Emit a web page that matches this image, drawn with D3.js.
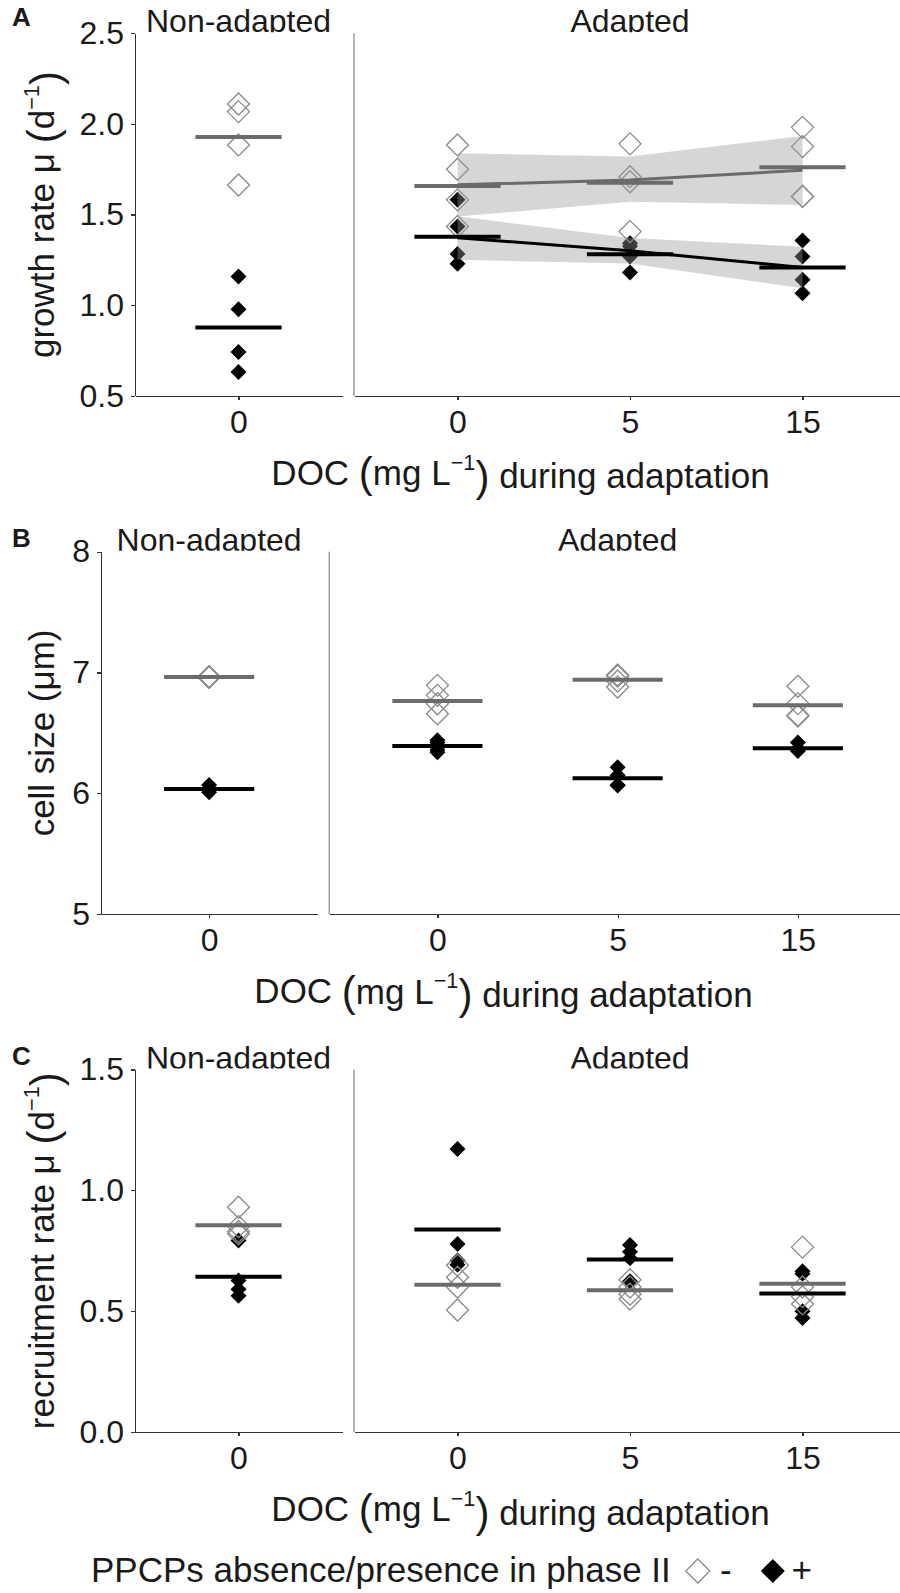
<!DOCTYPE html>
<meta charset="utf-8" />
<title>Growth rate, cell size and recruitment rate</title>
<script src="https://cdn.jsdelivr.net/npm/d3@7"></script>

<style>
  body {
    margin: 0;
    padding: 0;
    background: #fff;
  }

  svg text {
    font-family: "Liberation Sans", Arial, sans-serif;
    fill: #1a1a1a;
  }

  .axis path,
  .axis line {
    stroke: #333;
    stroke-width: 1.2;
    shape-rendering: crispEdges;
  }
</style>

<body>
  <div id="chart"></div>
</body>

<script>
  // facets and DOC levels
  const facets = ["Non-adapted", "Adapted"];
  const docLevels = ["0", "5", "15"];

  // A: growth rate (d-1), open = PPCPs absent, filled = PPCPs present
  const growthAbsent = [
    { facet: "Non-adapted", doc: "0", v: [2.11, 2.068, 1.884, 1.663] },
    { facet: "Adapted", doc: "0", v: [1.884, 1.75, 1.581, 1.434] },
    { facet: "Adapted", doc: "5", v: [1.89, 1.709, 1.681, 1.406] },
    { facet: "Adapted", doc: "15", v: [1.981, 1.875, 1.6, 1.6] }
  ];
  const growthPresent = [
    { facet: "Non-adapted", doc: "0", v: [1.158, 0.978, 0.741, 0.631] },
    { facet: "Adapted", doc: "0", v: [1.581, 1.434, 1.283, 1.228] },
    { facet: "Adapted", doc: "5", v: [1.342, 1.325, 1.268, 1.18] },
    { facet: "Adapted", doc: "15", v: [1.357, 1.268, 1.14, 1.066] }
  ];
  const growthMeanAbsent = [1.928, 1.658, 1.676, 1.761];
  const growthMeanPresent = [0.877, 1.378, 1.281, 1.208];
  // regression + band over the adapted DOC levels
  const growthFitAbsent = [1.664, 1.691, 1.744];
  const growthBandAbsent = [[1.489, 1.838], [1.571, 1.82], [1.553, 1.934]];
  const growthFitPresent = [1.372, 1.3, 1.208];
  const growthBandPresent = [[1.25, 1.49], [1.23, 1.37], [1.093, 1.323]];

  // B: cell size (um)
  const cellAbsent = [
    { facet: "Non-adapted", doc: "0", v: [6.965, 6.963, 6.962, 6.96] },
    { facet: "Adapted", doc: "0", v: [6.894, 6.811, 6.742, 6.659] },
    { facet: "Adapted", doc: "5", v: [6.98, 6.97, 6.93, 6.88] },
    { facet: "Adapted", doc: "15", v: [6.886, 6.743, 6.646, 6.64] }
  ];
  const cellPresent = [
    { facet: "Non-adapted", doc: "0", v: [6.07, 6.04, 6.03, 6.01] },
    { facet: "Adapted", doc: "0", v: [6.44, 6.42, 6.36, 6.34] },
    { facet: "Adapted", doc: "5", v: [6.216, 6.15, 6.07, 6.065] },
    { facet: "Adapted", doc: "15", v: [6.42, 6.37, 6.36, 6.35] }
  ];
  const cellMeanAbsent = [6.963, 6.764, 6.941, 6.729];
  const cellMeanPresent = [6.037, 6.391, 6.125, 6.374];

  // C: recruitment rate (d-1)
  const recruitAbsent = [
    { facet: "Non-adapted", doc: "0", v: [0.93, 0.85, 0.83, 0.82] },
    { facet: "Adapted", doc: "0", v: [0.69, 0.64, 0.6, 0.505] },
    { facet: "Adapted", doc: "5", v: [0.63, 0.6, 0.57, 0.55] },
    { facet: "Adapted", doc: "15", v: [0.765, 0.6, 0.56, 0.53] }
  ];
  const recruitPresent = [
    { facet: "Non-adapted", doc: "0", v: [0.792, 0.627, 0.591, 0.564] },
    { facet: "Adapted", doc: "0", v: [1.171, 0.778, 0.71, 0.692] },
    { facet: "Adapted", doc: "5", v: [0.774, 0.746, 0.719, 0.624] },
    { facet: "Adapted", doc: "15", v: [0.665, 0.655, 0.5, 0.472] }
  ];
  const recruitMeanAbsent = [0.856, 0.609, 0.587, 0.613];
  const recruitMeanPresent = [0.642, 0.838, 0.714, 0.573];

  // tick labels
  const growthTicks = [0.5, 1.0, 1.5, 2.0, 2.5];
  const cellTicks = [5, 6, 7, 8];
  const recruitTicks = [0.0, 0.5, 1.0, 1.5];

  const legendTitle = "PPCPs absence/presence in phase II";
  const legendLabels = ["-", "+"];

  const width = 900, height = 1593;
  const panelH = 362.5;
  const panelRight = 906; // plot runs a bit past the picture edge
  const facetGap = 12;
  const grey = "#6b6b6b";
  const tickFont = 32, titleFont = 35;

  const svg = d3.select("#chart")
    .append("svg")
    .attr("width", width)
    .attr("height", height);

  // diamond symbol, size = area
  const diamond = {
    draw: function (ctx, size) {
      const r = Math.sqrt(size / 2);
      ctx.moveTo(0, -r);
      ctx.lineTo(r, 0);
      ctx.lineTo(0, r);
      ctx.lineTo(-r, 0);
      ctx.closePath();
    }
  };
  const openSym = d3.symbol().type(diamond).size(2 * 11 * 11);
  const fillSym = d3.symbol().type(diamond).size(2 * 8 * 8);

  // text with a "(... x^-1)" unit group
  function unitText(sel, before, inner, after) {
    sel.append("tspan").text(before);
    sel.append("tspan").attr("font-size", "1.2em").attr("dy", "0.06em").text("(");
    sel.append("tspan").attr("dy", "-0.06em").text(inner);
    sel.append("tspan").attr("font-size", "0.62em").attr("dy", "-0.72em").text("\u22121");
    sel.append("tspan").attr("font-size", "1.2em").attr("dy", "0.5em").text(")");
    sel.append("tspan").attr("dy", "-0.06em").text(after);
  }

  function drawPanel(cfg) {
    const top = cfg.top, bottom = cfg.top + panelH;
    const unit = (panelRight - cfg.axisX - facetGap) / 4.4;

    const y = d3.scaleLinear().domain(cfg.domain).range([bottom, top]);
    const xLeft = d3.scalePoint().domain(["0"])
      .range([cfg.axisX, cfg.axisX + 1.2 * unit]).padding(0.5);
    const rightStart = cfg.axisX + 1.2 * unit + facetGap;
    const xRight = d3.scalePoint().domain(docLevels)
      .range([rightStart, rightStart + 3.2 * unit]).padding(0.6);
    const xOf = function (d) { return d.facet === facets[0] ? xLeft(d.doc) : xRight(d.doc); };
    const half = 0.25 * unit;

    const g = svg.append("g");

    // strip labels, clipped at the panel top
    const clipId = "clip" + cfg.letter;
    svg.append("clipPath").attr("id", clipId)
      .append("rect").attr("x", 0).attr("y", top - 50).attr("width", width).attr("height", 49);
    const strips = g.append("g").attr("clip-path", "url(#" + clipId + ")");
    strips.append("text")
      .attr("x", xLeft("0")).attr("y", top - 1)
      .attr("text-anchor", "middle").attr("font-size", tickFont)
      .text(facets[0]);
    strips.append("text")
      .attr("x", rightStart + 1.6 * unit).attr("y", top - 1)
      .attr("text-anchor", "middle").attr("font-size", tickFont)
      .text(facets[1]);

    // panel letter
    g.append("text")
      .attr("x", 12).attr("y", top + cfg.letterDy)
      .attr("font-size", 26).attr("font-weight", "bold")
      .text(cfg.letter);

    // filled points
    cfg.present.forEach(function (grp) {
      g.selectAll(null).data(grp.v).enter()
        .append("path")
        .attr("d", fillSym)
        .attr("transform", function (v) { return "translate(" + xOf(grp) + "," + y(v) + ")"; })
        .attr("fill", "#000");
    });
    // open points
    cfg.absent.forEach(function (grp) {
      g.selectAll(null).data(grp.v).enter()
        .append("path")
        .attr("d", openSym)
        .attr("transform", function (v) { return "translate(" + xOf(grp) + "," + y(v) + ")"; })
        .attr("fill", "none")
        .attr("stroke", "#8a8a8a")
        .attr("stroke-width", 1.3);
    });

    // regression bands
    if (cfg.bands) {
      const area = d3.area()
        .x(function (d, i) { return xRight(docLevels[i]); })
        .y0(function (d) { return y(d[0]); })
        .y1(function (d) { return y(d[1]); });
      cfg.bands.forEach(function (b) {
        g.append("path").datum(b)
          .attr("d", area)
          .attr("fill", "#999999")
          .attr("fill-opacity", 0.4);
      });
    }

    // group means
    const groups = cfg.absent;
    [[cfg.meanAbsent, grey], [cfg.meanPresent, "#000"]].forEach(function (m) {
      g.selectAll(null).data(m[0]).enter()
        .append("line")
        .attr("x1", function (v, i) { return xOf(groups[i]) - half; })
        .attr("x2", function (v, i) { return xOf(groups[i]) + half; })
        .attr("y1", function (v) { return y(v); })
        .attr("y2", function (v) { return y(v); })
        .attr("stroke", m[1])
        .attr("stroke-width", 4);
    });

    // regression lines
    if (cfg.fits) {
      const line = d3.line()
        .x(function (d, i) { return xRight(docLevels[i]); })
        .y(function (d) { return y(d); });
      [[cfg.fits[0], grey], [cfg.fits[1], "#000"]].forEach(function (f) {
        g.append("path").datum(f[0])
          .attr("d", line)
          .attr("fill", "none")
          .attr("stroke", f[1])
          .attr("stroke-width", 3);
      });
    }

    // axes
    g.append("g").attr("class", "axis")
      .attr("transform", "translate(" + cfg.axisX + ",0)")
      .call(d3.axisLeft(y).tickValues(cfg.ticks).tickFormat(cfg.fmt).tickSize(4).tickPadding(7).tickSizeOuter(0))
      .call(function (a) { a.selectAll("text").attr("font-size", tickFont).attr("font-family", null); });

    g.append("g").attr("class", "axis")
      .attr("transform", "translate(0," + bottom + ")")
      .call(d3.axisBottom(xLeft).tickSize(4).tickPadding(10).tickSizeOuter(0))
      .call(function (a) { a.selectAll("text").attr("font-size", tickFont).attr("font-family", null); });

    g.append("g").attr("class", "axis")
      .attr("transform", "translate(0," + bottom + ")")
      .call(d3.axisBottom(xRight).tickSize(4).tickPadding(10).tickSizeOuter(0))
      .call(function (a) { a.selectAll("text").attr("font-size", tickFont).attr("font-family", null); });

    // left border of the adapted facet
    g.append("line")
      .attr("x1", rightStart).attr("x2", rightStart)
      .attr("y1", top).attr("y2", bottom)
      .attr("stroke", "#8c8c8c").attr("stroke-width", 1.3);

    // axis titles
    const xt = g.append("text")
      .attr("x", (cfg.axisX + panelRight) / 2).attr("y", bottom + 89)
      .attr("text-anchor", "middle").attr("font-size", titleFont);
    unitText(xt, "DOC ", "mg L", " during adaptation");

    const yt = g.append("text")
      .attr("transform", "translate(54," + (top + bottom) / 2 + ") rotate(-90)")
      .attr("text-anchor", "middle").attr("font-size", titleFont);
    if (cfg.yUnit) {
      unitText(yt, cfg.yTitle, cfg.yUnit, "");
    } else {
      yt.text(cfg.yTitle);
    }
  }

  drawPanel({
    letter: "A", letterDy: -7, top: 33.3, axisX: 135, domain: [0.5, 2.5],
    ticks: growthTicks, fmt: d3.format(".1f"),
    yTitle: "growth rate \u03bc ", yUnit: "d",
    absent: growthAbsent, present: growthPresent,
    meanAbsent: growthMeanAbsent, meanPresent: growthMeanPresent,
    bands: [growthBandAbsent, growthBandPresent],
    fits: [growthFitAbsent, growthFitPresent]
  });

  drawPanel({
    letter: "B", letterDy: -5, top: 551.7, axisX: 101, domain: [5, 8],
    ticks: cellTicks, fmt: d3.format("d"),
    yTitle: "cell size (\u03bcm)",
    absent: cellAbsent, present: cellPresent,
    meanAbsent: cellMeanAbsent, meanPresent: cellMeanPresent
  });

  drawPanel({
    letter: "C", letterDy: -5, top: 1069.5, axisX: 135, domain: [0, 1.5],
    ticks: recruitTicks, fmt: d3.format(".1f"),
    yTitle: "recruitment rate \u03bc ", yUnit: "d",
    absent: recruitAbsent, present: recruitPresent,
    meanAbsent: recruitMeanAbsent, meanPresent: recruitMeanPresent
  });

  // legend
  const leg = svg.append("g");
  const legText = leg.append("text")
    .attr("x", 91).attr("y", 1582)
    .attr("font-size", titleFont)
    .text(legendTitle);
  const legEnd = 91 + legText.node().getComputedTextLength();
  const legendSym = d3.symbol().type(diamond).size(2 * 12 * 12);
  leg.append("path")
    .attr("d", legendSym)
    .attr("transform", "translate(" + (legEnd + 27) + ",1571)")
    .attr("fill", "none").attr("stroke", "#8a8a8a").attr("stroke-width", 1.3);
  leg.append("text")
    .attr("x", legEnd + 55).attr("y", 1582).attr("font-size", titleFont)
    .attr("text-anchor", "middle")
    .text(legendLabels[0]);
  leg.append("path")
    .attr("d", legendSym)
    .attr("transform", "translate(" + (legEnd + 102) + ",1571)")
    .attr("fill", "#000");
  leg.append("text")
    .attr("x", legEnd + 131).attr("y", 1582).attr("font-size", titleFont)
    .attr("text-anchor", "middle")
    .text(legendLabels[1]);
</script>
